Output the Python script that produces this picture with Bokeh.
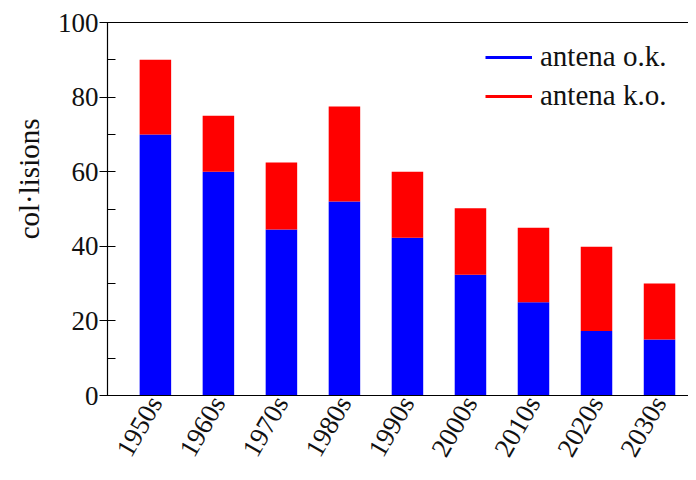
from bokeh.plotting import figure
from bokeh.models import (ColumnDataSource, Range1d, FixedTicker, LinearAxis,
                          Legend, LegendItem, Title)
from bokeh.embed import file_html
from bokeh.resources import INLINE

categories = ["1950s", "1960s", "1970s", "1980s", "1990s",
              "2000s", "2010s", "2020s", "2030s"]
antena_ok = [70, 60, 44.5, 52, 42.3, 32.4, 25, 17.3, 15]
antena_ko = [20, 15, 18, 25.5, 17.7, 17.8, 20, 22.6, 15]
y_label = "col·lisions"

FONT = "'Liberation Serif', serif"
FS = "27px"
FS_TXT = "29px"

x = list(range(len(categories)))
tops_ok = antena_ok
tops_ko = [a + b for a, b in zip(antena_ok, antena_ko)]

src = ColumnDataSource(dict(x=x, ok=tops_ok, ko=tops_ko,
                            zero=[0] * len(x)))

p = figure(width=688, height=472, output_backend="svg", toolbar_location=None,
           x_range=Range1d(-0.76, 8.46), y_range=Range1d(0, 100),
           min_border_left=106, min_border_top=22, min_border_bottom=77,
           min_border_right=0, x_axis_location="below")
p.outline_line_color = None
p.xgrid.visible = False
p.ygrid.visible = False
p.background_fill_color = "white"
p.border_fill_color = "white"

p.vbar(x="x", bottom="zero", top="ok", width=0.5, source=src,
       fill_color="#0000ff", line_color=None)
p.vbar(x="x", bottom="ok", top="ko", width=0.5, source=src,
       fill_color="#ff0000", line_color=None)

# x axis
xa = p.xaxis[0]
xa.ticker = FixedTicker(ticks=x)
xa.major_label_overrides = {i: c for i, c in zip(x, categories)}
xa.major_label_orientation = 1.0472
xa.major_tick_in = 0
xa.major_tick_out = 0
xa.minor_tick_in = 0
xa.minor_tick_out = 0
xa.major_label_standoff = 3
xa.axis_line_color = "black"
xa.axis_line_width = 1.2
xa.major_label_text_font = FONT
xa.major_label_text_font_size = FS
xa.major_label_text_color = "#111111"

# y axis
ya = p.yaxis[0]
ya.ticker = FixedTicker(ticks=[0, 20, 40, 60, 80, 100],
                        minor_ticks=[10, 30, 50, 70, 90])
ya.major_tick_in = 8
ya.major_tick_out = 8
ya.minor_tick_in = 8
ya.minor_tick_out = 0
ya.major_tick_line_color = "black"
ya.minor_tick_line_color = "black"
ya.axis_line_color = "black"
ya.axis_line_width = 1.2
ya.major_label_standoff = 1
ya.major_label_text_font = FONT
ya.major_label_text_font_size = FS
ya.major_label_text_color = "#111111"

# y-axis title (placed a bit above centre, as in the reference)
ytitle = Title(text=y_label, align="right", offset=96, standoff=20,
               text_font=FONT, text_font_size=FS_TXT,
               text_font_style="normal", text_color="#111111")
p.add_layout(ytitle, "left")

# top frame line
top = LinearAxis(ticker=FixedTicker(ticks=[]), major_tick_in=0, major_tick_out=0,
                 minor_tick_in=0, minor_tick_out=0, major_label_text_alpha=0,
                 axis_line_color="black", axis_line_width=1.2)
p.add_layout(top, "above")

# legend with line glyphs (hidden line renderers carry the legend styling)
r_ok = p.line(x=x, y=tops_ok, line_color="#0000ff", line_width=3, visible=False)
r_ko = p.line(x=x, y=tops_ko, line_color="#ff0000", line_width=3, visible=False)
legend = Legend(items=[LegendItem(label="antena o.k.", renderers=[r_ok]),
                       LegendItem(label="antena k.o.", renderers=[r_ko])],
                location=(378, 283))
legend.border_line_color = None
legend.background_fill_alpha = 0
legend.inactive_fill_alpha = 0
legend.label_text_font = FONT
legend.label_text_font_size = FS_TXT
legend.label_text_color = "#111111"
legend.glyph_width = 47
legend.glyph_height = 30
legend.label_height = 30
legend.label_standoff = 8
legend.spacing = 6
legend.margin = 0
legend.padding = 0
p.add_layout(legend, "center")

open("out.html", "w").write(file_html(p, INLINE))
